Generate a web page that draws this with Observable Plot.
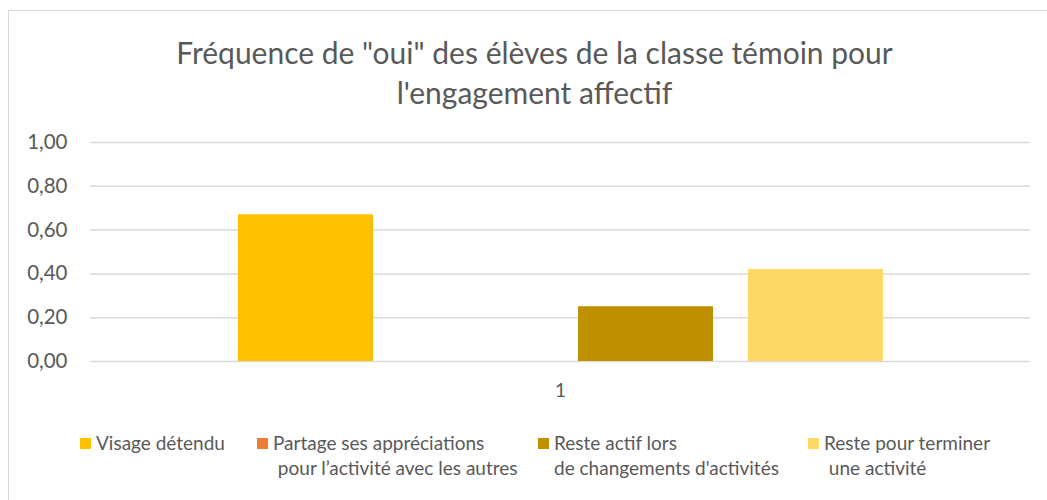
<!DOCTYPE html>
<html>
<head>
<meta charset="utf-8">
<script src="https://cdn.jsdelivr.net/npm/d3@7"></script>
<script src="https://cdn.jsdelivr.net/npm/@observablehq/plot@0.6"></script>
<style>
  html, body { margin: 0; padding: 0; background: #fff; }
  #wrap { position: relative; width: 1047px; height: 500px; overflow: hidden; font-family: Lato, "Open Sans", sans-serif; color: #595959; }
  #border { position: absolute; left: 8px; top: 10px; width: 1100px; height: 600px; border: 1.5px solid #d9d9d9; box-sizing: border-box; }
  #title { position: absolute; left: 0; top: 32px; width: 1069px; text-align: center; font-size: 30px; line-height: 40px; }
  #chart { position: absolute; left: 0; top: 120px; }
  .leg { position: absolute; font-size: 19px; line-height: 25px; white-space: pre; }
  .sw { position: absolute; width: 11px; height: 11px; }
</style>
</head>
<body>
<div id="wrap">
  <div id="border"></div>
  <div id="title"></div>
  <div id="chart"></div>
  <div id="legend"></div>
</div>
<script>
const titleLines = ["Fréquence de \"oui\" des élèves de la classe témoin pour", "l'engagement affectif"];
const categories = ["1"];
const series = [
  "Visage détendu",
  "Partage ses appréciations\n pour l’activité avec les autres",
  "Reste actif lors\nde changements d'activités",
  "Reste pour terminer\n une activité"
];
const values = [0.67, 0, 0.25, 0.42];
const colors = ["#FFC000", "#ED7D31", "#BF9000", "#FFD966"];
const yTicks = [0, 0.2, 0.4, 0.6, 0.8, 1.0];

document.getElementById("title").innerHTML = titleLines.join("<br>");

const data = series.map((s, i) => ({cat: categories[0], series: s, value: values[i]}));
const fmt = d => d.toFixed(2).replace(".", ",");

const chart = Plot.plot({
  width: 1047,
  height: 290,
  marginLeft: 90,
  marginRight: 17,
  marginTop: 22,
  marginBottom: 49,
  style: {fontFamily: "Lato, 'Open Sans', sans-serif", fontSize: "20.5px", color: "#595959", background: "transparent"},
  fx: {domain: categories, padding: 0, axis: "bottom", label: null, tickSize: 0, tickPadding: 22},
  x: {domain: series, paddingInner: 0.208, paddingOuter: 0.86, axis: null},
  y: {domain: [0, 1], ticks: yTicks, tickFormat: fmt, label: null, tickSize: 0, tickPadding: 23},
  color: {domain: series, range: colors},
  marks: [
    Plot.ruleY(yTicks, {stroke: "#d9d9d9", strokeWidth: 1.5}),
    Plot.barY(data, {fx: "cat", x: "series", y: "value", fill: "series"})
  ]
});
chart.querySelectorAll("[aria-label='fx-axis tick label'] text").forEach(t => t.style.fontSize = "19px");
document.getElementById("chart").appendChild(chart);

// Legend
const legendX = [80, 257, 538, 808];
const legend = document.getElementById("legend");
series.forEach((s, i) => {
  const sw = document.createElement("div");
  sw.className = "sw";
  sw.style.left = legendX[i] + "px";
  sw.style.top = "438px";
  sw.style.background = colors[i];
  legend.appendChild(sw);
  const t = document.createElement("div");
  t.className = "leg";
  t.style.left = (legendX[i] + 16) + "px";
  t.style.top = "429.5px";
  t.textContent = s;
  legend.appendChild(t);
});
</script>
</body>
</html>
